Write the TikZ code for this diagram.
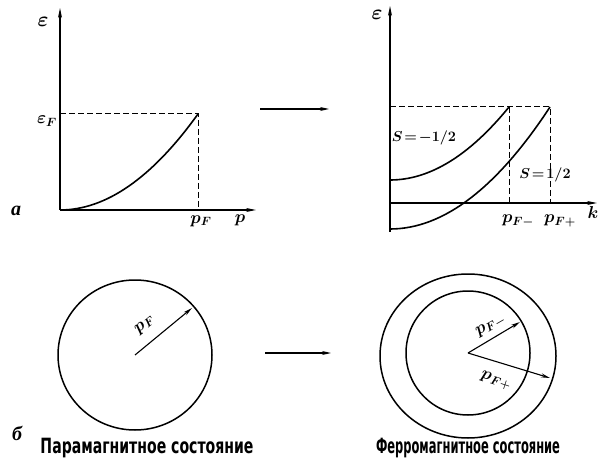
\documentclass[tikz,border=0pt]{standalone}
\usepackage{fontspec}
\usepackage{graphicx}
\newfontfamily\capfont{DejaVu Sans}
\newfontfamily\letfont{Liberation Serif}
\usetikzlibrary{arrows.meta}
\tikzset{
  axis/.style={line width=1.1pt,-{Stealth[length=10pt,width=4pt]}},
  curve/.style={line width=1.6pt},
  guide/.style={line width=1pt,dash pattern=on 6pt off 3pt},
  ptr/.style={line width=1.1pt,-{Stealth[length=9pt,width=4pt]}},
  ring/.style={line width=1.5pt},
  lbl/.style={inner sep=0pt,font=\fontsize{17}{19}\selectfont\boldmath},
  slbl/.style={inner sep=0pt,font=\fontsize{15}{17}\selectfont\boldmath},
  tag/.style={inner sep=0pt,font=\letfont\bfseries\itshape\fontsize{20}{22}\selectfont},
}
\begin{document}
\begin{tikzpicture}[x=1pt,y=-1pt]
\useasboundingbox (0,0) rectangle (599,462);
% ---- top-left plot
\coordinate (O1) at (60,210);
\coordinate (Y1) at (60,8);
\coordinate (X1) at (256,210);
\coordinate (E1) at (60,114);
\coordinate (C1) at (198,114);
\coordinate (P1) at (198,210);
\draw[axis] (O1) -- (Y1);
\draw[axis] (O1) -- (X1);
\draw[guide] (E1) -- (C1) -- (P1);
\draw[curve] (O1) .. controls (106,210) and (152,178) .. (C1);
\node[lbl] (eps1) at (43,22) {\fontsize{22}{24}\selectfont$\varepsilon$};
\node[lbl] (epsF) at (47,121) {$\varepsilon_F$};
\node[lbl] (pF) at (201,221) {$p_F$};
\node[lbl] (p) at (240,220) {$p$};
\node[tag] (ta) at (16,211) {а};
% ---- middle arrows
\coordinate (A1) at (260,109);
\coordinate (A2) at (329,109);
\draw[ptr] (A1) -- (A2);
\coordinate (B1) at (265,353);
\coordinate (B2) at (331,353);
\draw[ptr] (B1) -- (B2);
% ---- top-right plot
\coordinate (O2) at (390,203);
\coordinate (Yb) at (390,232);
\coordinate (Y2) at (390,6);
\coordinate (X2) at (597,203);
\coordinate (E2) at (390,107);
\coordinate (Cm) at (509,107);
\coordinate (Cp) at (550,107);
\coordinate (Pm) at (509,203);
\coordinate (Pp) at (550,203);
\coordinate (Vm) at (390,180);
\coordinate (Vp) at (390,229);
\draw[axis] (Yb) -- (Y2);
\draw[axis] (O2) -- (X2);
\draw[guide] (E2) -- (Cp) -- (Pp);
\draw[guide] (Cm) -- (Pm);
\draw[curve] (Vm) .. controls (429.7,180) and (469.3,155.7) .. (Cm);
\draw[curve] (Vp) .. controls (443.3,229) and (496.7,188.3) .. (Cp);
\node[lbl] (eps2) at (377,15) {\fontsize{22}{24}\selectfont$\varepsilon$};
\node[slbl] (sm) at (424,138) {$S\mathrel{\!=\!}-1/2$};
\node[slbl] (sp) at (545,175) {$S\mathrel{\!=\!}1/2$};
\node[lbl] (pFm) at (518,221) {$p_{F-}$};
\node[lbl] (pFp) at (560,221) {$p_{F+}$};
\node[lbl] (k) at (593,213) {$k$};
% ---- bottom-left circle
\coordinate (c1) at (135,355);
\coordinate (r1) at (192,308);
\draw[ring] (c1) ellipse [x radius=77, y radius=75];
\draw[ptr] (c1) -- (r1);
\node[lbl,rotate=39] (lpf) at (145,325) {$p_F$};
\node[tag] (tb) at (17,433) {б};
\node[inner sep=0pt] (cap1) at (147,448) {\resizebox{213pt}{\height}{\capfont\bfseries\fontsize{21}{22}\selectfont Парамагнитное состояние}};
% ---- bottom-right circles
\coordinate (c2) at (468,353);
\coordinate (rm) at (520,322);
\coordinate (rp) at (550,378);
\draw[ring] (468,356) ellipse [x radius=88, y radius=82];
\draw[ring] (c2) ellipse [x radius=62, y radius=62];
\draw[ptr] (c2) -- (rm);
\draw[ptr] (c2) -- (rp);
\node[lbl,rotate=30] (lpm) at (491,326) {$p_{F-}$};
\node[lbl,rotate=-18] (lpp) at (496,381) {$p_{F+}$};
\node[inner sep=0pt] (cap2) at (468,448) {\resizebox{184pt}{\height}{\capfont\bfseries\fontsize{21}{22}\selectfont Ферромагнитное состояние}};
\end{tikzpicture}
\end{document}
